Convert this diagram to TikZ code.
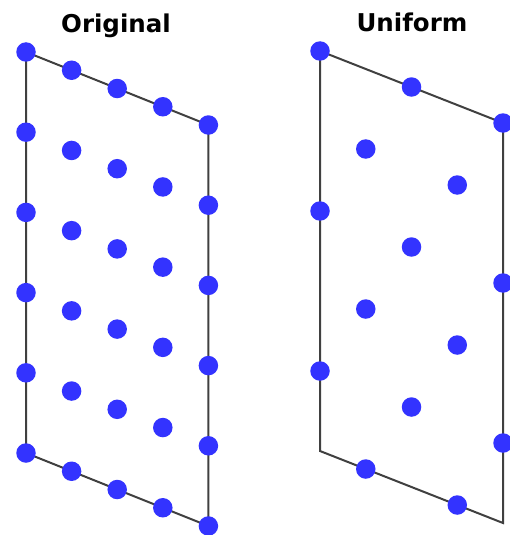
\documentclass[tikz,border=0pt]{standalone}
\usepackage{fontspec}
\setmainfont{DejaVu Sans}
\begin{document}
\begin{tikzpicture}[x=1pt,y=-1pt,
  dot/.style={circle,fill=dotblue,inner sep=0pt,minimum size=19.5pt},
  edge/.style={draw=black!75,line width=2pt},
  title/.style={font=\bfseries\fontsize{24.5}{28}\selectfont,anchor=base}]
\definecolor{dotblue}{RGB}{51,51,255}
\useasboundingbox (0,0) rectangle (510,535);
\node[title] (t1) at (116,33) {Original};
\node[title] (t2) at (412,32) {Uniform};
% Original grid coordinates
\foreach \i in {0,...,4}{
  \foreach \j in {0,...,5}{
    \coordinate (o-\i-\j) at ({26+\i*45.6},{52+\i*18.25+\j*80.2});
  }
}
\draw[edge] (o-0-0) -- (o-4-0) -- (o-4-5) -- (o-0-5) -- cycle;
\foreach \i in {0,...,4}{
  \foreach \j in {0,...,5}{
    \node[dot] (od-\i-\j) at (o-\i-\j) {};
  }
}
% Uniform
\coordinate (ua) at (320,51);
\coordinate (ub) at (503,123);
\coordinate (uc) at (503,523);
\coordinate (ud) at (320,451);
\draw[edge] (ua) -- (ub) -- (uc) -- (ud) -- cycle;
\foreach \u/\v [count=\k] in {0/0,0.5/0,1/0,0.25/0.2,0.75/0.2,0/0.4,0.5/0.4,1/0.4,0.25/0.6,0.75/0.6,0/0.8,0.5/0.8,1/0.8,0.25/1,0.75/1}{
  \node[dot] (ud\k) at ({320+183*\u},{51+72*\u+400*\v}) {};
}
\end{tikzpicture}
\end{document}
